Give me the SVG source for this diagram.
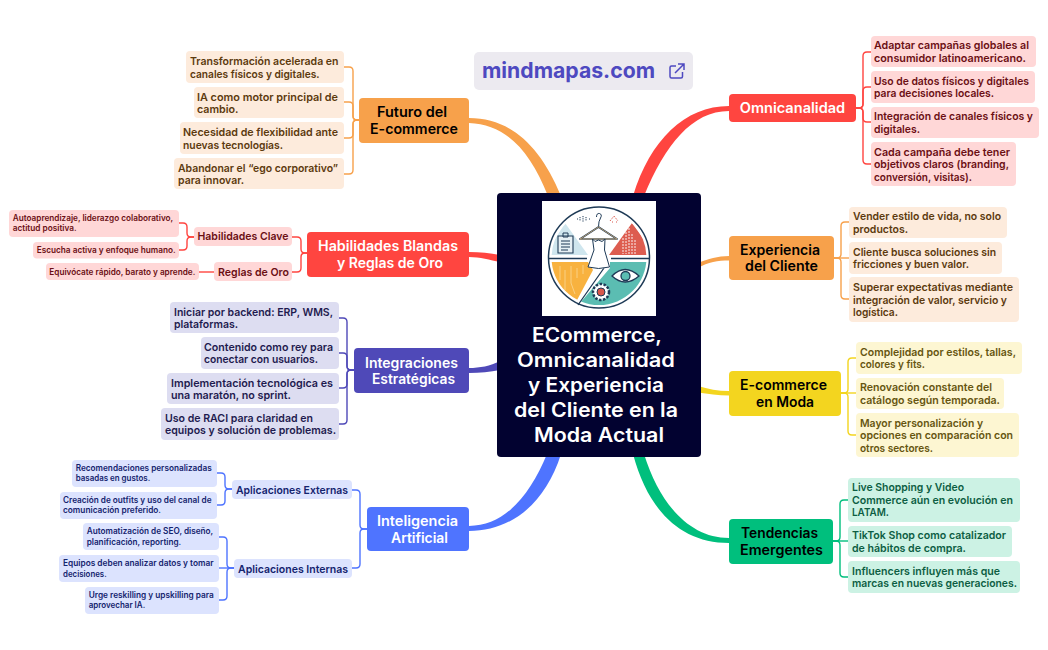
<svg xmlns="http://www.w3.org/2000/svg" width="1048" height="650" viewBox="0 0 1048 650">
<style>
text{font-family:"Inter","Noto Sans","Liberation Sans",sans-serif;font-weight:600}
.leaf text{font-size:10.8px}
.small text{font-size:8.4px}
.sub text{font-size:11px}
.br text{font-size:14px}
.o rect{fill:#FDEBDC}.o text{fill:#5C3A0E}
.r rect{fill:#FFD7D7}.r text{fill:#6B0F14}
.i rect{fill:#DDDDF1}.i text{fill:#1F1B4F}
.b rect{fill:#DCE3FE}.b text{fill:#14246E}
.y rect{fill:#FDF6D2}.y text{fill:#665510}
.g rect{fill:#CCF2E4}.g text{fill:#0C5E43}
.thin{fill:none;stroke-width:1.4}
.wt text{fill:#fff}.bk text{fill:#000}
.ln{fill:none;stroke:#1E3A56;stroke-width:1}
</style>
<g id="connectors">
<path d="M633,196C650,140 685,106 729,106L729,111C692,111 665,145 644,196Z" fill="#FF4540"/>
<path d="M469,118C510,118 540,145 561,196L548,196C530,150 505,124 469,123Z" fill="#F7A14B"/>
<path d="M469,252C480,252 490,253 500,255L500,262C490,260 480,257 469,257Z" fill="#FF4540"/>
<path d="M469,368C480,368 490,366 500,361L500,370C490,372 480,373 469,373Z" fill="#4F49B8"/>
<path d="M469,526C505,526 530,495 547,454L561,454C545,505 510,531 469,531Z" fill="#4F74FF"/>
<path d="M633,454C648,510 680,543 729,543L729,538C690,538 660,505 644,454Z" fill="#00BF7D"/>
<path d="M698,263C708,259 718,256 729,256L729,260.500C718,260.500 708,262 698,268Z" fill="#F7A14B"/>
<path d="M698,386C708,389 718,391 729,391L729,395.500C718,395.500 708,394 698,392.500Z" fill="#F3D51F"/>
<g class="thin" stroke="#F7A14B">
<path d="M359,120H357Q353,120 353,116V71Q353,67 349,67H344"/>
<path d="M359,120H357Q353,120 353,116V106Q353,102 349,102H344"/>
<path d="M359,120H357Q353,120 353,124V134Q353,138 349,138H344"/>
<path d="M359,120H357Q353,120 353,124V170Q353,174 349,174H344"/>
<path d="M834,258H837Q841,258 841,254V226Q841,222 845,222H849"/>
<path d="M834,258H849"/>
<path d="M834,258H837Q841,258 841,262V295Q841,299 845,299H849"/>
</g>
<g class="thin" stroke="#FF4540">
<path d="M307,253H305Q301,253 301,249V241Q301,237 297,237H292"/>
<path d="M307,253H305Q301,253 301,257V268Q301,272 297,272H292"/>
<path d="M194,237H191Q187,237 187,233V227Q187,223 183,223H179"/>
<path d="M194,237H191Q187,237 187,241V246Q187,250 183,250H179"/>
<path d="M214,272H199"/>
<path d="M856,108H859Q863,108 863,104V56Q863,52 867,52H871"/>
<path d="M856,108H859Q863,108 863,104V91Q863,87 867,87H871"/>
<path d="M856,108H859Q863,108 863,112V118Q863,122 867,122H871"/>
<path d="M856,108H859Q863,108 863,112V160Q863,164 867,164H871"/>
</g>
<g class="thin" stroke="#4F49B8">
<path d="M354,370H351Q347,370 347,366V322Q347,318 343,318H339"/>
<path d="M354,370H351Q347,370 347,366V357Q347,353 343,353H339"/>
<path d="M354,370H351Q347,370 347,374V384Q347,388 343,388H339"/>
<path d="M354,370H351Q347,370 347,374V420Q347,424 343,424H339"/>
</g>
<g class="thin" stroke="#4F74FF">
<path d="M367,529H364Q360,529 360,525V494Q360,490 356,490H352"/>
<path d="M367,529H364Q360,529 360,533V564Q360,568 356,568H352"/>
<path d="M232,489H229Q225,489 225,485V477Q225,473 221,473H217"/>
<path d="M232,489H229Q225,489 225,493V501Q225,505 221,505H217"/>
<path d="M234,568H231Q227,568 227,564V541Q227,537 223,537H219"/>
<path d="M234,568H219"/>
<path d="M234,568H231Q227,568 227,572V596Q227,600 223,600H219"/>
</g>
<g class="thin" stroke="#F3D51F">
<path d="M841,393H844Q848,393 848,389V362Q848,358 852,358H856"/>
<path d="M841,393H856"/>
<path d="M841,393H844Q848,393 848,397V431Q848,435 852,435H856"/>
</g>
<g class="thin" stroke="#00BF7D">
<path d="M833,541H836Q840,541 840,537V504Q840,500 844,500H848"/>
<path d="M833,541H848"/>
<path d="M833,541H836Q840,541 840,545V573Q840,577 844,577H848"/>
</g>
</g>
<g id="link">
<rect x="474" y="52" width="219" height="38" rx="5" fill="#ECEAF0"/>
<text x="482" y="78" textLength="173" lengthAdjust="spacingAndGlyphs" font-size="21.5" fill="#4E49C0" style="font-weight:700">mindmapas.com</text>
<path d="M676,66H671.5Q670,66 670,67.5V76.5Q670,78 671.5,78H681Q682.500,78 682.500,76.500V72M675,73L684,64M678,64H684V70" fill="none" stroke="#4E49C0" stroke-width="1.500"/>
</g>
<g id="central">
<rect x="497" y="193" width="204" height="264" rx="4" fill="#020230"/>
<g id="logo">
<rect x="542" y="201" width="114" height="115" fill="#fff"/>
<clipPath id="cc"><circle cx="599" cy="257.500" r="47.500"/></clipPath>
<g clip-path="url(#cc)">
<path d="M565,223L588,255H545Z" fill="#CFE6EE"/>
<path d="M632,223L655,255H609Z" fill="#DD5D50"/>
<path d="M545,262H588L593,270L576,302L545,310Z" fill="#F8B23F"/>
<path d="M610,262H655V315H575L580,303L610,268Z" fill="#5BBDB2"/>
</g>
<circle cx="599" cy="257.500" r="50.500" fill="none" stroke="#1E3A56" stroke-width="1.500"/>
<path d="M549,258.500H587M611,258.500H649M604,268L578,305" fill="none" stroke="#1E3A56" stroke-width="1.300"/>
<path d="M558,236H573V253H558Z" fill="#E6F0F4" stroke="#1E3A56" stroke-width="1.100"/>
<path d="M563,233H568V237H563ZM561,241H570M561,244H570M561,247H570M561,250H568" class="ln"/>
<path d="M596.500,217Q596.500,213 599.500,213.500Q602.500,214.500 600.500,218Q598.500,221 598.500,227" fill="none" stroke="#1E3A56" stroke-width="1"/>
<path d="M598.500,227L617,239H580Z" fill="none" stroke="#1E3A56" stroke-width="1.700" stroke-linejoin="round"/>
<path d="M598.500,227L617,239H580Z" fill="none" stroke="#D8B27A" stroke-width=".8" stroke-linejoin="round"/>
<path d="M592.500,239L595,241.500L598.500,240L602,241.500L605,239L604.500,250L609.500,267Q598.500,270 588,267L594,250Z" fill="#fff" stroke="#1E3A56" stroke-width="1"/>
<path d="M623,238V254M626,232V254M629,228V254M632,234V254M635,240V254" fill="none" stroke="#fff" stroke-width=".9" stroke-dasharray="2 1"/>
<path d="M560,266V280M565,270V290M571,266V283L575,294M577,268V278M583,265V274" fill="none" stroke="#FBDDA0" stroke-width=".7"/>
<path d="M612,276Q625,263 639,276Q625,288 612,276Z" fill="#fff" stroke="#1E3A56" stroke-width="1.300"/>
<circle cx="625.500" cy="276" r="4.500" fill="#5BBDB2" stroke="#1E3A56" stroke-width="1.300"/>
<circle cx="601" cy="292" r="8" fill="#fff" stroke="#1E3A56" stroke-width="2.500" stroke-dasharray="2.500 1.500"/>
<circle cx="601" cy="292" r="4" fill="#D9574B" stroke="#1E3A56"/>
<path d="M577,219h1M580,217v4M583,216v6M586,217v4M589,219h1" fill="none" stroke="#1E3A56" stroke-width="1" stroke-dasharray="1.200 1"/>
<path d="M610,221L614,216L618,221M612,222h1M616,222h1" fill="none" stroke="#D9574B" stroke-width="1" stroke-dasharray="1.200 1"/>
</g>
<g fill="#fff" font-size="19.500">
<text x="532" y="342" textLength="130" lengthAdjust="spacingAndGlyphs">ECommerce,</text>
<text x="517" y="367" textLength="158" lengthAdjust="spacingAndGlyphs">Omnicanalidad</text>
<text x="528" y="392" textLength="136" lengthAdjust="spacingAndGlyphs">y Experiencia</text>
<text x="514" y="417" textLength="164" lengthAdjust="spacingAndGlyphs">del Cliente en la</text>
<text x="534" y="442" textLength="130" lengthAdjust="spacingAndGlyphs">Moda Actual</text>
</g>
</g>
<g id="futuro" class="br bk"><rect x="359" y="98" width="110" height="45" rx="4" fill="#F7A14B"/>
<text x="377" y="117" textLength="70" lengthAdjust="spacingAndGlyphs">Futuro del</text><text x="370" y="134" textLength="88" lengthAdjust="spacingAndGlyphs">E-commerce</text></g>
<g id="f1" class="leaf o"><rect x="186" y="51" width="158" height="32" rx="4"/><text x="190" y="65" textLength="148.500" lengthAdjust="spacingAndGlyphs">Transformación acelerada en</text><text x="190" y="77.500" textLength="129.500" lengthAdjust="spacingAndGlyphs">canales físicos y digitales.</text></g>
<g id="f2" class="leaf o"><rect x="194" y="87" width="150" height="31" rx="4"/><text x="197" y="100.500" textLength="141" lengthAdjust="spacingAndGlyphs">IA como motor principal de</text><text x="197" y="113" textLength="41.500" lengthAdjust="spacingAndGlyphs">cambio.</text></g>
<g id="f3" class="leaf o"><rect x="180" y="122" width="164" height="32" rx="4"/><text x="183" y="136" textLength="155" lengthAdjust="spacingAndGlyphs">Necesidad de flexibilidad ante</text><text x="183" y="148.500" textLength="100" lengthAdjust="spacingAndGlyphs">nuevas tecnologías.</text></g>
<g id="f4" class="leaf o"><rect x="174" y="158" width="170" height="31" rx="4"/><text x="178" y="171.500" textLength="160" lengthAdjust="spacingAndGlyphs">Abandonar el “ego corporativo”</text><text x="178" y="184" textLength="66" lengthAdjust="spacingAndGlyphs">para innovar.</text></g>

<g id="habilidades" class="br wt"><rect x="307" y="232" width="162" height="45" rx="4" fill="#FF4540"/>
<text x="318" y="251" textLength="140" lengthAdjust="spacingAndGlyphs">Habilidades Blandas</text><text x="337" y="268" textLength="106" lengthAdjust="spacingAndGlyphs">y Reglas de Oro</text></g>
<g id="h-clave" class="sub r"><rect x="194" y="227" width="98" height="19" rx="4"/><text x="197.500" y="240" textLength="91" lengthAdjust="spacingAndGlyphs">Habilidades Clave</text></g>
<g id="h-oro" class="sub r"><rect x="214" y="262" width="78" height="19" rx="4"/><text x="218" y="275.500" textLength="71" lengthAdjust="spacingAndGlyphs">Reglas de Oro</text></g>
<g id="h1" class="small r"><rect x="9" y="210" width="170" height="27" rx="4"/><text x="12.700" y="221" textLength="160.500" lengthAdjust="spacingAndGlyphs">Autoaprendizaje, liderazgo colaborativo,</text><text x="12.700" y="231" textLength="64" lengthAdjust="spacingAndGlyphs">actitud positiva.</text></g>
<g id="h2" class="small r"><rect x="33" y="242" width="146" height="16.500" rx="4"/><text x="36.700" y="253" textLength="139" lengthAdjust="spacingAndGlyphs">Escucha activa y enfoque humano.</text></g>
<g id="h3" class="small r"><rect x="46" y="263" width="153" height="17" rx="4"/><text x="49.300" y="274.500" textLength="146" lengthAdjust="spacingAndGlyphs">Equivócate rápido, barato y aprende.</text></g>

<g id="integraciones" class="br wt"><rect x="354" y="348" width="115" height="45" rx="4" fill="#4F49B8"/>
<text x="365" y="367.500" textLength="93" lengthAdjust="spacingAndGlyphs">Integraciones</text><text x="372" y="384" textLength="83" lengthAdjust="spacingAndGlyphs">Estratégicas</text></g>
<g id="i1" class="leaf i"><rect x="170" y="302" width="169" height="31" rx="4"/><text x="174" y="315.500" textLength="159" lengthAdjust="spacingAndGlyphs">Iniciar por backend: ERP, WMS,</text><text x="174" y="328" textLength="64" lengthAdjust="spacingAndGlyphs">plataformas.</text></g>
<g id="i2" class="leaf i"><rect x="201" y="337" width="138" height="32" rx="4"/><text x="204" y="351" textLength="129" lengthAdjust="spacingAndGlyphs">Contenido como rey para</text><text x="204" y="363" textLength="114" lengthAdjust="spacingAndGlyphs">conectar con usuarios.</text></g>
<g id="i3" class="leaf i"><rect x="167" y="373" width="172" height="31" rx="4"/><text x="171" y="386.500" textLength="162" lengthAdjust="spacingAndGlyphs">Implementación tecnológica es</text><text x="171" y="399" textLength="120" lengthAdjust="spacingAndGlyphs">una maratón, no sprint.</text></g>
<g id="i4" class="leaf i"><rect x="161" y="408" width="178" height="32" rx="4"/><text x="165" y="421.500" textLength="148" lengthAdjust="spacingAndGlyphs">Uso de RACI para claridad en</text><text x="165" y="434" textLength="171" lengthAdjust="spacingAndGlyphs">equipos y solución de problemas.</text></g>

<g id="inteligencia" class="br wt"><rect x="367" y="507" width="102" height="44" rx="4" fill="#4F74FF"/>
<text x="377" y="526" textLength="81" lengthAdjust="spacingAndGlyphs">Inteligencia</text><text x="391" y="542.500" textLength="57" lengthAdjust="spacingAndGlyphs">Artificial</text></g>
<g id="a-ext" class="sub b"><rect x="232" y="480" width="120" height="19" rx="4"/><text x="236" y="493.500" textLength="112" lengthAdjust="spacingAndGlyphs">Aplicaciones Externas</text></g>
<g id="a-int" class="sub b"><rect x="234" y="559" width="118" height="19" rx="4"/><text x="238" y="572.500" textLength="110" lengthAdjust="spacingAndGlyphs">Aplicaciones Internas</text></g>
<g id="a1" class="small b"><rect x="72" y="460" width="145" height="27" rx="4"/><text x="75.700" y="471" textLength="136" lengthAdjust="spacingAndGlyphs">Recomendaciones personalizadas</text><text x="75.700" y="481" textLength="74.500" lengthAdjust="spacingAndGlyphs">basadas en gustos.</text></g>
<g id="a2" class="small b"><rect x="60" y="492" width="157" height="27" rx="4"/><text x="63" y="503" textLength="148.500" lengthAdjust="spacingAndGlyphs">Creación de outfits y uso del canal de</text><text x="63" y="513" textLength="98" lengthAdjust="spacingAndGlyphs">comunicación preferido.</text></g>
<g id="a3" class="small b"><rect x="83" y="523" width="136" height="27" rx="4"/><text x="86.700" y="534" textLength="126.500" lengthAdjust="spacingAndGlyphs">Automatización de SEO, diseño,</text><text x="86.700" y="545" textLength="94.500" lengthAdjust="spacingAndGlyphs">planificación, reporting.</text></g>
<g id="a4" class="small b"><rect x="59" y="555" width="160" height="27" rx="4"/><text x="63" y="566" textLength="150.500" lengthAdjust="spacingAndGlyphs">Equipos deben analizar datos y tomar</text><text x="63" y="577" textLength="43.700" lengthAdjust="spacingAndGlyphs">decisiones.</text></g>
<g id="a5" class="small b"><rect x="85" y="587" width="134" height="27" rx="4"/><text x="88.700" y="598" textLength="125" lengthAdjust="spacingAndGlyphs">Urge reskilling y upskilling para</text><text x="88.700" y="608" textLength="56.500" lengthAdjust="spacingAndGlyphs">aprovechar IA.</text></g>

<g id="omnicanalidad" class="br wt"><rect x="729" y="94" width="127" height="28" rx="4" fill="#FF4540"/><text x="739.700" y="113" textLength="105.500" lengthAdjust="spacingAndGlyphs">Omnicanalidad</text></g>
<g id="o1" class="leaf r"><rect x="871" y="36" width="165" height="31" rx="4"/><text x="874" y="49" textLength="155" lengthAdjust="spacingAndGlyphs">Adaptar campañas globales al</text><text x="874" y="61.500" textLength="152" lengthAdjust="spacingAndGlyphs">consumidor latinoamericano.</text></g>
<g id="o2" class="leaf r"><rect x="871" y="71" width="164" height="32" rx="4"/><text x="874" y="84.500" textLength="155" lengthAdjust="spacingAndGlyphs">Uso de datos físicos y digitales</text><text x="874" y="97" textLength="120" lengthAdjust="spacingAndGlyphs">para decisiones locales.</text></g>
<g id="o3" class="leaf r"><rect x="871" y="107" width="168" height="31" rx="4"/><text x="874" y="120" textLength="159" lengthAdjust="spacingAndGlyphs">Integración de canales físicos y</text><text x="874" y="132.500" textLength="46" lengthAdjust="spacingAndGlyphs">digitales.</text></g>
<g id="o4" class="leaf r"><rect x="871" y="142" width="145" height="44" rx="4"/><text x="874" y="155.500" textLength="136" lengthAdjust="spacingAndGlyphs">Cada campaña debe tener</text><text x="874" y="168" textLength="135" lengthAdjust="spacingAndGlyphs">objetivos claros (branding,</text><text x="874" y="180.500" textLength="98" lengthAdjust="spacingAndGlyphs">conversión, visitas).</text></g>

<g id="experiencia" class="br bk"><rect x="729" y="236" width="105" height="44" rx="4" fill="#F7A14B"/>
<text x="740" y="254.500" textLength="80" lengthAdjust="spacingAndGlyphs">Experiencia</text><text x="745" y="271" textLength="73" lengthAdjust="spacingAndGlyphs">del Cliente</text></g>
<g id="e1" class="leaf o"><rect x="849" y="207" width="158" height="31" rx="4"/><text x="853" y="220" textLength="148" lengthAdjust="spacingAndGlyphs">Vender estilo de vida, no solo</text><text x="853" y="232.500" textLength="55" lengthAdjust="spacingAndGlyphs">productos.</text></g>
<g id="e2" class="leaf o"><rect x="849" y="242" width="153" height="32" rx="4"/><text x="853" y="255.500" textLength="143" lengthAdjust="spacingAndGlyphs">Cliente busca soluciones sin</text><text x="853" y="268" textLength="116" lengthAdjust="spacingAndGlyphs">fricciones y buen valor.</text></g>
<g id="e3" class="leaf o"><rect x="849" y="277" width="170" height="45" rx="4"/><text x="853" y="291" textLength="160" lengthAdjust="spacingAndGlyphs">Superar expectativas mediante</text><text x="853" y="303.500" textLength="154" lengthAdjust="spacingAndGlyphs">integración de valor, servicio y</text><text x="853" y="316" textLength="45" lengthAdjust="spacingAndGlyphs">logística.</text></g>

<g id="moda" class="br bk"><rect x="729" y="371" width="112" height="45" rx="4" fill="#F3D51F"/>
<text x="740" y="390" textLength="87" lengthAdjust="spacingAndGlyphs">E-commerce</text><text x="756" y="407" textLength="58" lengthAdjust="spacingAndGlyphs">en Moda</text></g>
<g id="m1" class="leaf y"><rect x="856" y="342" width="166" height="32" rx="4"/><text x="860" y="355.500" textLength="156" lengthAdjust="spacingAndGlyphs">Complejidad por estilos, tallas,</text><text x="860" y="368" textLength="65" lengthAdjust="spacingAndGlyphs">colores y fits.</text></g>
<g id="m2" class="leaf y"><rect x="856" y="378" width="148" height="31" rx="4"/><text x="860" y="391" textLength="132" lengthAdjust="spacingAndGlyphs">Renovación constante del</text><text x="860" y="403.500" textLength="140" lengthAdjust="spacingAndGlyphs">catálogo según temporada.</text></g>
<g id="m3" class="leaf y"><rect x="856" y="413" width="163" height="44" rx="4"/><text x="860" y="426.500" textLength="123" lengthAdjust="spacingAndGlyphs">Mayor personalización y</text><text x="860" y="439" textLength="153" lengthAdjust="spacingAndGlyphs">opciones en comparación con</text><text x="860" y="451.500" textLength="73" lengthAdjust="spacingAndGlyphs">otros sectores.</text></g>

<g id="tendencias" class="br bk"><rect x="729" y="519" width="104" height="45" rx="4" fill="#00BF7D"/>
<text x="741" y="538" textLength="77" lengthAdjust="spacingAndGlyphs">Tendencias</text><text x="740" y="555" textLength="83" lengthAdjust="spacingAndGlyphs">Emergentes</text></g>
<g id="t1" class="leaf g"><rect x="848" y="478" width="172" height="44" rx="4"/><text x="852" y="491" textLength="112" lengthAdjust="spacingAndGlyphs">Live Shopping y Video</text><text x="852" y="503.500" textLength="161" lengthAdjust="spacingAndGlyphs">Commerce aún en evolución en</text><text x="852" y="516" textLength="37" lengthAdjust="spacingAndGlyphs">LATAM.</text></g>
<g id="t2" class="leaf g"><rect x="848" y="526" width="164" height="31" rx="4"/><text x="852" y="539" textLength="154" lengthAdjust="spacingAndGlyphs">TikTok Shop como catalizador</text><text x="852" y="551.500" textLength="114" lengthAdjust="spacingAndGlyphs">de hábitos de compra.</text></g>
<g id="t3" class="leaf g"><rect x="848" y="561" width="172" height="32" rx="4"/><text x="852" y="574.500" textLength="148" lengthAdjust="spacingAndGlyphs">Influencers influyen más que</text><text x="852" y="587" textLength="165" lengthAdjust="spacingAndGlyphs">marcas en nuevas generaciones.</text></g>
</svg>
